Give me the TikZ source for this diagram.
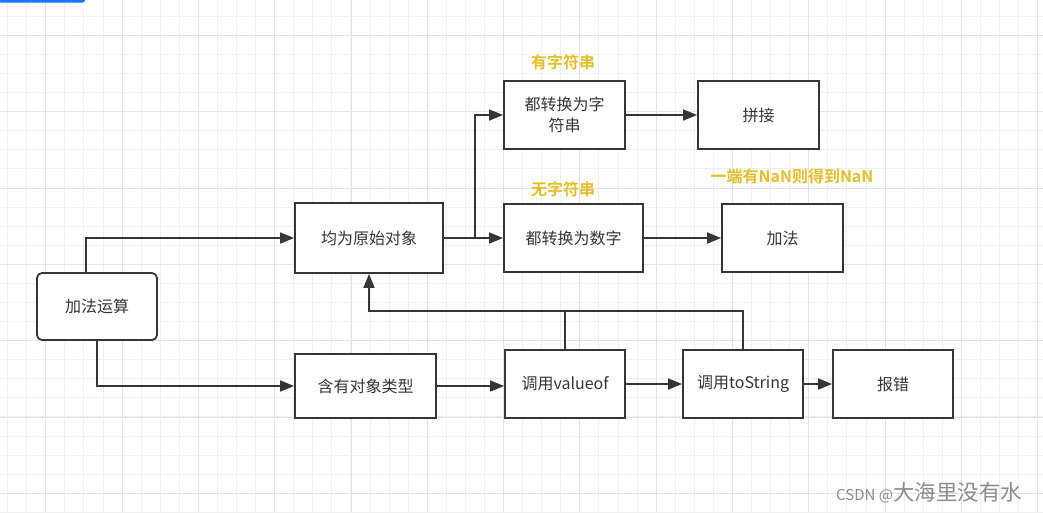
\documentclass[tikz,border=0pt]{standalone}
\usepackage{fontspec}
\usetikzlibrary{arrows.meta,calc}
\newfontfamily\cjk{Noto Sans CJK SC}
\newfontfamily\cjkbold{Noto Sans CJK SC Bold}
\definecolor{gridminor}{RGB}{240,240,240}
\definecolor{gridmajor}{RGB}{228,228,228}
\definecolor{ink}{RGB}{51,54,58}
\definecolor{gold}{RGB}{230,191,40}
\definecolor{topblue}{RGB}{22,119,255}
\definecolor{wmgray}{RGB}{140,140,140}
\tikzset{
  box/.style={draw=ink, line width=1.8pt, fill=white, rectangle, inner sep=0pt,
    font=\fontsize{16}{21}\selectfont\cjk, text=ink, align=center},
  conn/.style={draw=ink, line width=1.7pt},
  arr/.style={conn, -{Triangle[length=14pt,width=11pt]}},
  note/.style={font=\fontsize{16}{20}\selectfont\cjkbold, text=gold, inner sep=0pt},
}
\begin{document}
\begin{tikzpicture}[x=1pt,y=-1pt]
\useasboundingbox (0,0) rectangle (1043,512);
\fill[white] (0,0) rectangle (1043,512);
% grid
\foreach \i in {0,...,54} {
  \pgfmathsetmacro\gx{round(7.15+19.075*\i)+0.5}
  \draw[gridminor, line width=1pt] (\gx,0) -- ++(0,512);
}
\foreach \j in {0,...,26} {
  \pgfmathsetmacro\gy{round(15.9+19.075*\j)+0.5}
  \draw[gridminor, line width=1pt] (0,\gy) -- ++(1043,0);
}
\foreach \k in {0,...,13} {
  \pgfmathsetmacro\gx{round(45.3+76.3*\k)+0.5}
  \draw[gridmajor, line width=1pt] (\gx,0) -- ++(0,512);
}
\foreach \k in {0,...,6} {
  \pgfmathsetmacro\gy{round(35+76.3*\k)+0.5}
  \draw[gridmajor, line width=1pt] (0,\gy) -- ++(1043,0);
}
% top blue bar
\fill[topblue, rounded corners=2.5pt] (-10,-10) rectangle (85,2.6);

% nodes
\node[box, rounded corners=5pt, minimum width=120pt, minimum height=67pt] (add) at (97,306.5) {加法运算};
\node[box, minimum width=148pt, minimum height=70pt] (prim) at (369,238) {均为原始对象};
\node[box, minimum width=121pt, minimum height=68pt] (tostr) at (564.5,115) {都转换为字\\符串};
\node[box, minimum width=121pt, minimum height=68pt] (concat) at (758.5,115) {拼接};
\node[box, minimum width=139pt, minimum height=68pt] (tonum) at (573.5,238) {都转换为数字};
\node[box, minimum width=121pt, minimum height=68pt] (plus) at (782.5,238) {加法};
\node[box, minimum width=141pt, minimum height=64pt] (obj) at (365.5,386) {含有对象类型};
\node[box, minimum width=120pt, minimum height=68pt] (valof) at (565,384) {调用valueof};
\node[box, minimum width=120pt, minimum height=68pt] (tostring) at (743,384) {调用toString};
\node[box, minimum width=120pt, minimum height=68pt] (err) at (893,384) {报错};

% labels
\node[note] (l1) at (563,62) {有字符串};
\node[note] (l2) at (563,189) {无字符串};
\node[note] (l3) at (792,176) {一端有NaN则得到NaN};

% connectors
\draw[arr] ([xshift=-11pt]add.north) |- (prim.west);
\draw[arr] (add.south) |- (obj.west);
\draw[arr] (prim.east) -- (tonum.west);
\coordinate (br) at ([xshift=31pt]prim.east);
\draw[arr] (br) |- (tostr.west);
\draw[arr] (tostr.east) -- (concat.west);
\draw[arr] (tonum.east) -- (plus.west);
\draw[arr] (obj.east) -- (obj.east -| valof.west);
\draw[arr] (valof.east) -- (tostring.west);
\draw[arr] (tostring.east) -- (err.west);
\coordinate (fb) at ([yshift=38pt]valof.north);
\draw[arr] (valof.north) -- (fb) -| (prim.south);
\draw[conn] (tostring.north) |- (fb);

% watermark
\node[anchor=west, inner sep=0pt, text=wmgray] (wm) at (836,493)
  {\fontsize{15}{18}\selectfont\cjk CSDN @\fontsize{21.5}{22}\selectfont 大海里没有水};
\end{tikzpicture}
\end{document}
